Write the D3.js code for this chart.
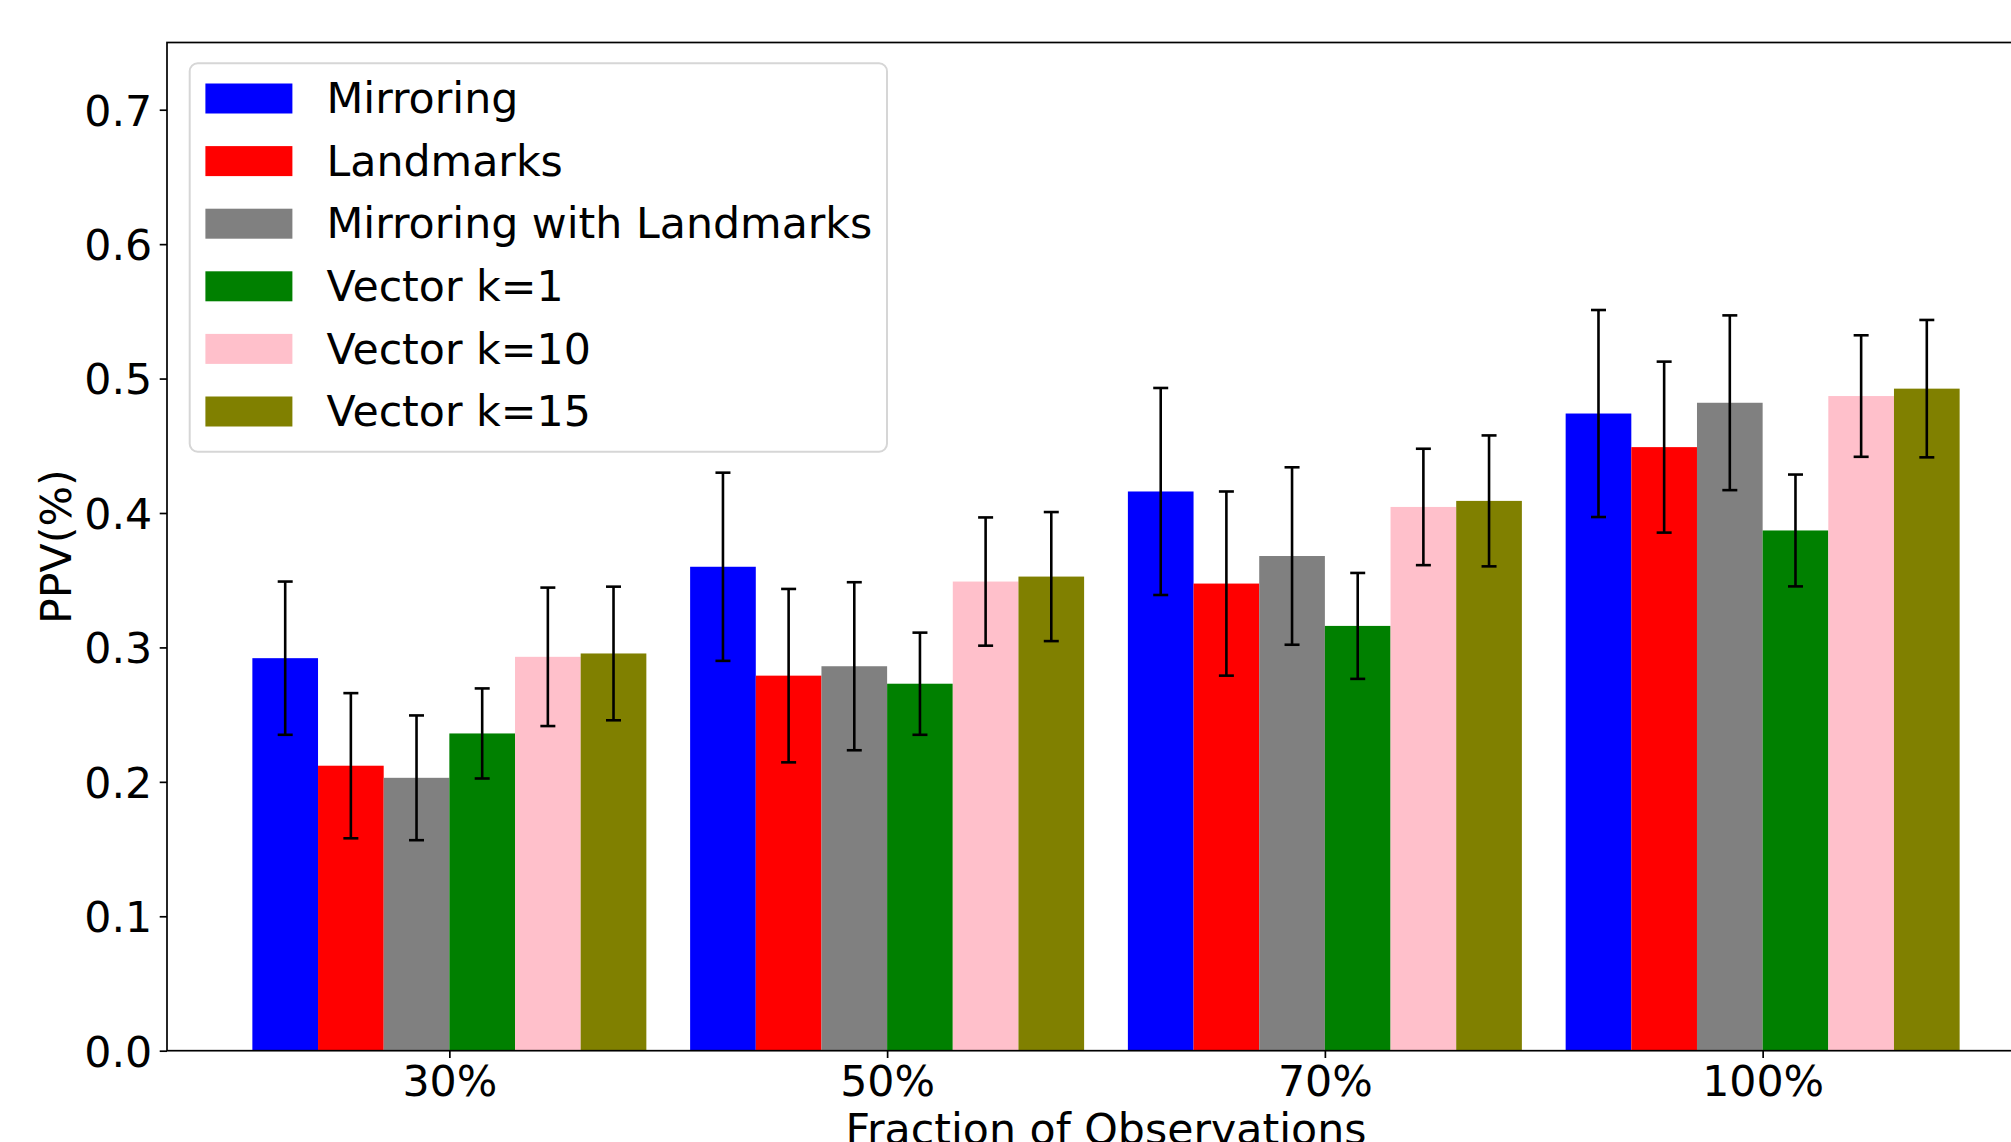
<!DOCTYPE html>
<html>
<head>
<meta charset="utf-8">
<script src="https://cdn.jsdelivr.net/npm/d3@7"></script>
<style>
  html, body { margin: 0; padding: 0; background: #fff; overflow: hidden; }
  svg { display: block; font-family: "DejaVu Sans", sans-serif; }
</style>
</head>
<body>
<svg id="chart" width="2011" height="1142"></svg>
<script>
// Fractions of observations on the x axis
const categories = ["30%", "50%", "70%", "100%"];

// Method names, in legend / bar order
const seriesNames = ["Mirroring", "Landmarks", "Mirroring with Landmarks", "Vector k=1", "Vector k=10", "Vector k=15"];
const seriesColors = ["#0000ff", "#ff0000", "#808080", "#008000", "#ffc0cb", "#808000"];

// Mean PPV per method
const mirroring      = [0.292, 0.360, 0.416, 0.474];
const landmarks      = [0.212, 0.279, 0.3475, 0.449];
const mirroringLand  = [0.203, 0.286, 0.368, 0.482];
const vectorK1       = [0.236, 0.273, 0.316, 0.387];
const vectorK10      = [0.293, 0.349, 0.4045, 0.487];
const vectorK15      = [0.2955, 0.3527, 0.409, 0.4925];

// Standard deviation per method
const mirroringErr     = [0.057, 0.070, 0.077, 0.077];
const landmarksErr     = [0.054, 0.0645, 0.0685, 0.0636];
const mirroringLandErr = [0.0464, 0.0625, 0.066, 0.065];
const vectorK1Err      = [0.0335, 0.038, 0.0394, 0.0416];
const vectorK10Err     = [0.0515, 0.0477, 0.0433, 0.0452];
const vectorK15Err     = [0.0497, 0.048, 0.0487, 0.0511];

const yTicks = [0.0, 0.1, 0.2, 0.3, 0.4, 0.5, 0.6, 0.7];

const means = [mirroring, landmarks, mirroringLand, vectorK1, vectorK10, vectorK15];
const errs  = [mirroringErr, landmarksErr, mirroringLandErr, vectorK1Err, vectorK10Err, vectorK15Err];

const bars = [];
seriesNames.forEach((name, s) => {
  categories.forEach((c, g) => {
    bars.push({ series: s, group: g, value: means[s][g], err: errs[s][g] });
  });
});

// Layout
const fontSize = 42.7;
const plot = { left: 167, right: 2045, top: 42.5, bottom: 1050.7 };
const barWidth = 0.15;           // in group units
const nSeries = seriesNames.length;

const svg = d3.select("#chart");

const x = d3.scaleLinear()
  .domain([-0.645, categories.length - 1 + 0.645])
  .range([plot.left, plot.right]);

const y = d3.scaleLinear()
  .domain([0, 0.75])
  .range([plot.bottom, plot.top]);

const barX = d => x(d.group + (d.series - (nSeries - 1) / 2) * barWidth - barWidth / 2);
const barCx = d => x(d.group + (d.series - (nSeries - 1) / 2) * barWidth);
const bw = x(barWidth) - x(0);

// Bars
svg.append("g").selectAll("rect")
  .data(bars)
  .join("rect")
  .attr("x", barX)
  .attr("y", d => y(d.value))
  .attr("width", bw)
  .attr("height", d => y(0) - y(d.value))
  .attr("fill", d => seriesColors[d.series]);

// Error bars
const eb = svg.append("g").attr("stroke", "#000").attr("stroke-width", 2.6);
const capHalf = 7.5;
eb.selectAll("line.stem")
  .data(bars).join("line").attr("class", "stem")
  .attr("x1", barCx).attr("x2", barCx)
  .attr("y1", d => y(d.value - d.err)).attr("y2", d => y(d.value + d.err));
eb.selectAll("line.capTop")
  .data(bars).join("line").attr("class", "capTop")
  .attr("x1", d => barCx(d) - capHalf).attr("x2", d => barCx(d) + capHalf)
  .attr("y1", d => y(d.value + d.err)).attr("y2", d => y(d.value + d.err));
eb.selectAll("line.capBot")
  .data(bars).join("line").attr("class", "capBot")
  .attr("x1", d => barCx(d) - capHalf).attr("x2", d => barCx(d) + capHalf)
  .attr("y1", d => y(d.value - d.err)).attr("y2", d => y(d.value - d.err));

// Axes frame
svg.append("rect")
  .attr("x", plot.left).attr("y", plot.top)
  .attr("width", plot.right - plot.left).attr("height", plot.bottom - plot.top)
  .attr("fill", "none").attr("stroke", "#000").attr("stroke-width", 1.7);

// Y axis
const yAxis = svg.append("g")
  .attr("transform", `translate(${plot.left},0)`)
  .call(d3.axisLeft(y).tickValues(yTicks).tickFormat(d3.format(".1f")).tickSize(7.3).tickPadding(7.5));
yAxis.select(".domain").remove();
yAxis.selectAll(".tick line").attr("stroke", "#000").attr("stroke-width", 1.7);
yAxis.selectAll(".tick text")
  .attr("font-family", "DejaVu Sans")
  .attr("font-size", fontSize)
  .attr("fill", "#000")
  .attr("dy", null)
  .attr("dominant-baseline", "auto")
  .attr("y", 15.3);

// X axis
const xAxis = svg.append("g")
  .attr("transform", `translate(0,${plot.bottom})`)
  .call(d3.axisBottom(x).tickValues(d3.range(categories.length)).tickFormat(i => categories[i]).tickSize(7.3).tickPadding(7.5));
xAxis.select(".domain").remove();
xAxis.selectAll(".tick line").attr("stroke", "#000").attr("stroke-width", 1.7);
xAxis.selectAll(".tick text")
  .attr("font-family", "DejaVu Sans")
  .attr("font-size", fontSize)
  .attr("fill", "#000")
  .attr("dy", null)
  .attr("y", 45.3);

// Axis titles
svg.append("text")
  .attr("transform", `translate(71,${(plot.top + plot.bottom) / 2}) rotate(-90)`)
  .attr("text-anchor", "middle")
  .attr("font-size", fontSize)
  .text("PPV(%)");

svg.append("text")
  .attr("x", (plot.left + plot.right) / 2)
  .attr("y", 1144)
  .attr("text-anchor", "middle")
  .attr("font-size", fontSize)
  .text("Fraction of Observations");

// Legend
const legend = svg.append("g");
legend.append("rect")
  .attr("x", 189.7).attr("y", 63.3)
  .attr("width", 887 - 189.7).attr("height", 451.7 - 63.3)
  .attr("rx", 8).attr("ry", 8)
  .attr("fill", "#fff").attr("fill-opacity", 0.8)
  .attr("stroke", "#d6d6d6").attr("stroke-width", 2);

const rowStep = 62.6;
const rows = legend.selectAll("g.row")
  .data(seriesNames)
  .join("g").attr("class", "row")
  .attr("transform", (d, i) => `translate(0,${98.5 + i * rowStep})`);
rows.append("rect")
  .attr("x", 205.4).attr("y", -15)
  .attr("width", 87).attr("height", 30)
  .attr("fill", (d, i) => seriesColors[i]);
rows.append("text")
  .attr("x", 326.5).attr("y", 14.6)
  .attr("font-size", fontSize)
  .text(d => d);
</script>
</body>
</html>
